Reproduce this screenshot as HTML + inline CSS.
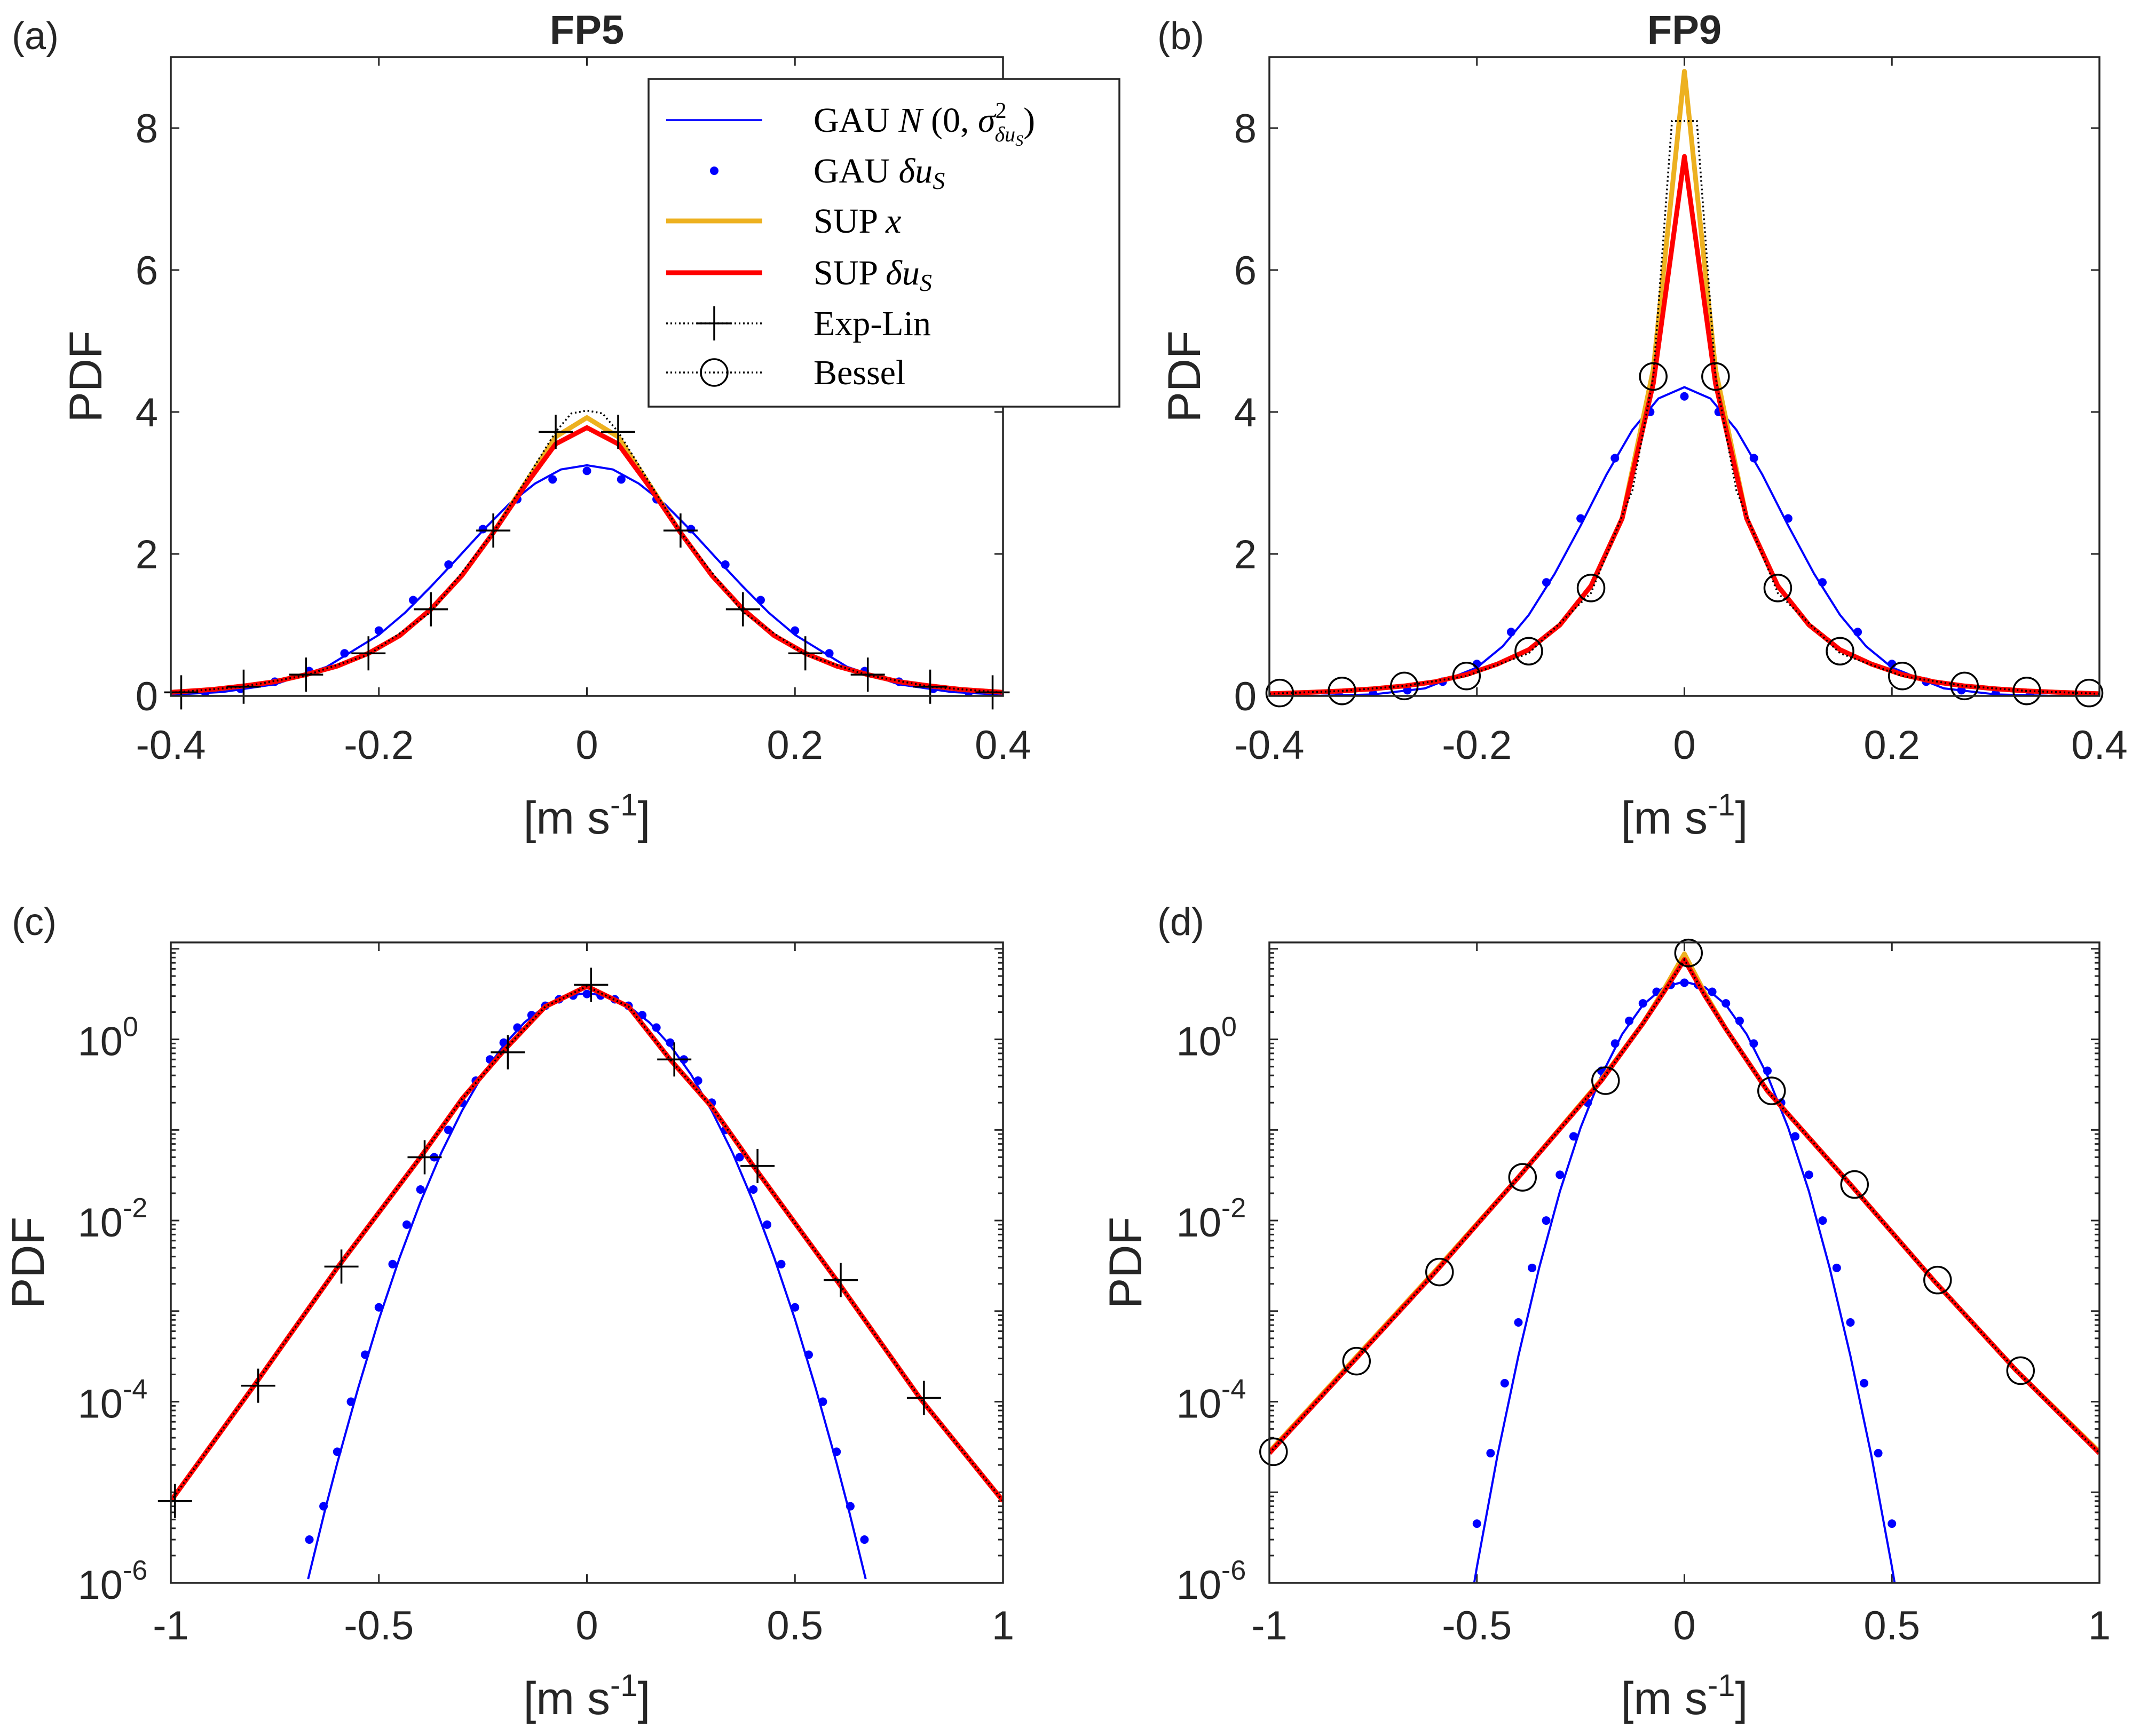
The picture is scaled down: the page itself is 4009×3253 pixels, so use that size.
<!DOCTYPE html>
<html><head><meta charset="utf-8"><style>
html,body{margin:0;padding:0;background:#fff}
svg{display:block}
text{font-family:"Liberation Sans",sans-serif;fill:#262626}
.lg{font-family:"Liberation Serif",serif;fill:#000;font-size:66px}
</style></head><body>
<svg id="fig" width="4009" height="3253" viewBox="0 0 4009 3253" xmlns="http://www.w3.org/2000/svg"></svg>
<script>
// ---------- data ----------
const aGauX=[-0.4,-0.35,-0.3,-0.25,-0.2,-0.175,-0.15,-0.125,-0.1,-0.075,-0.05,-0.025,0,0.025,0.05,0.075,0.1,0.125,0.15,0.175,0.2,0.25,0.3,0.35,0.4];
const aGauY=[0.016,0.056,0.163,0.41,0.86,1.17,1.54,1.93,2.33,2.70,2.99,3.19,3.25,3.19,2.99,2.70,2.33,1.93,1.54,1.17,0.86,0.41,0.163,0.056,0.016];
const aDotX=[-0.4,-0.367,-0.333,-0.3,-0.267,-0.233,-0.2,-0.167,-0.133,-0.1,-0.067,-0.033,0,0.033,0.067,0.1,0.133,0.167,0.2,0.233,0.267,0.3,0.333,0.367,0.4];
const aDotY=[0.02,0.05,0.1,0.2,0.35,0.6,0.92,1.35,1.85,2.35,2.77,3.05,3.17,3.05,2.77,2.35,1.85,1.35,0.92,0.6,0.35,0.2,0.1,0.05,0.02];
const aSupX=[-0.4,-0.36,-0.33,-0.3,-0.27,-0.24,-0.21,-0.18,-0.15,-0.12,-0.09,-0.06,-0.03,0,0.03,0.06,0.09,0.12,0.15,0.18,0.21,0.24,0.27,0.3,0.33,0.36,0.4];
const aSupXY=[0.05,0.09,0.14,0.2,0.3,0.42,0.6,0.85,1.22,1.7,2.3,2.98,3.65,3.92,3.65,2.98,2.3,1.7,1.22,0.85,0.6,0.42,0.3,0.2,0.14,0.09,0.05];
const aSupDY=[0.05,0.09,0.14,0.2,0.3,0.42,0.6,0.85,1.22,1.7,2.3,2.95,3.55,3.78,3.55,2.95,2.3,1.7,1.22,0.85,0.6,0.42,0.3,0.2,0.14,0.09,0.05];
const aModX=[-0.4,-0.33,-0.27,-0.21,-0.15,-0.09,-0.03,-0.015,0,0.015,0.03,0.09,0.15,0.21,0.27,0.33,0.4];
const aModY=[0.045,0.13,0.29,0.58,1.18,2.3,3.72,3.98,4.02,3.98,3.72,2.3,1.18,0.58,0.29,0.13,0.045];
const aMkX=[-0.39,-0.33,-0.27,-0.21,-0.15,-0.09,-0.03,0.03,0.09,0.15,0.21,0.27,0.33,0.39];
const aMkY=[0.05,0.13,0.3,0.6,1.22,2.33,3.72,3.72,2.33,1.22,0.6,0.3,0.13,0.05];
const bGauX=[-0.4,-0.35,-0.3,-0.25,-0.2,-0.175,-0.15,-0.125,-0.1,-0.075,-0.05,-0.025,0,0.025,0.05,0.075,0.1,0.125,0.15,0.175,0.2,0.25,0.3,0.35,0.4];
const bGauY=[0,0.0015,0.021,0.106,0.40,0.70,1.14,1.72,2.40,3.12,3.75,4.19,4.35,4.19,3.75,3.12,2.40,1.72,1.14,0.70,0.40,0.106,0.021,0.0015,0];
const bDotX=[-0.4,-0.367,-0.333,-0.3,-0.267,-0.233,-0.2,-0.167,-0.133,-0.1,-0.067,-0.033,0,0.033,0.067,0.1,0.133,0.167,0.2,0.233,0.267,0.3,0.333,0.367,0.4];
const bDotY=[0,0.005,0.01,0.03,0.08,0.2,0.45,0.9,1.6,2.5,3.35,4.0,4.22,4.0,3.35,2.5,1.6,0.9,0.45,0.2,0.08,0.03,0.01,0.005,0];
const bSupX=[-0.4,-0.36,-0.33,-0.3,-0.27,-0.24,-0.21,-0.18,-0.15,-0.12,-0.09,-0.06,-0.03,0,0.03,0.06,0.09,0.12,0.15,0.18,0.21,0.24,0.27,0.3,0.33,0.36,0.4];
const bSupXY=[0.03,0.05,0.07,0.1,0.14,0.2,0.3,0.45,0.65,1.0,1.55,2.5,4.6,8.8,4.6,2.5,1.55,1.0,0.65,0.45,0.3,0.2,0.14,0.1,0.07,0.05,0.03];
const bSupDY=[0.03,0.05,0.07,0.1,0.14,0.2,0.3,0.45,0.65,1.0,1.55,2.5,4.4,7.6,4.4,2.5,1.55,1.0,0.65,0.45,0.3,0.2,0.14,0.1,0.07,0.05,0.03];
const bModX=[-0.4,-0.33,-0.27,-0.21,-0.15,-0.09,-0.05,-0.03,-0.012,0,0.012,0.03,0.05,0.09,0.15,0.21,0.27,0.33,0.4];
const bModY=[0.03,0.07,0.14,0.28,0.6,1.45,2.9,4.5,8.1,8.1,8.1,4.5,2.9,1.45,0.6,0.28,0.14,0.07,0.03];
const bMkX=[-0.39,-0.33,-0.27,-0.21,-0.15,-0.09,-0.03,0.03,0.09,0.15,0.21,0.27,0.33,0.39];
const bMkY=[0.04,0.07,0.14,0.28,0.63,1.52,4.5,4.5,1.52,0.63,0.28,0.14,0.07,0.04];
const cGauX=[-0.67,-0.63,-0.6,-0.55,-0.5,-0.45,-0.4,-0.35,-0.3,-0.25,-0.2,-0.15,-0.1,-0.05,0,0.05,0.1,0.15,0.2,0.25,0.3,0.35,0.4,0.45,0.5,0.55,0.6,0.63,0.67];
const cGauY=[1.1e-6,6.2e-6,2.1e-5,1.4e-4,8.1e-4,3.9e-3,0.016,0.056,0.163,0.41,0.86,1.54,2.33,2.99,3.25,2.99,2.33,1.54,0.86,0.41,0.163,0.056,0.016,3.9e-3,8.1e-4,1.4e-4,2.1e-5,6.2e-6,1.1e-6];
const cDotX=[-0.667,-0.633,-0.6,-0.567,-0.533,-0.5,-0.467,-0.433,-0.4,-0.367,-0.333,-0.3,-0.267,-0.233,-0.2,-0.167,-0.133,-0.1,-0.067,-0.033,0,0.033,0.067,0.1,0.133,0.167,0.2,0.233,0.267,0.3,0.333,0.367,0.4,0.433,0.467,0.5,0.533,0.567,0.6,0.633,0.667];
const cDotY=[3e-6,7e-6,2.8e-5,1e-4,3.3e-4,1.1e-3,3.3e-3,0.009,0.022,0.05,0.1,0.2,0.35,0.6,0.92,1.35,1.85,2.35,2.77,3.05,3.17,3.05,2.77,2.35,1.85,1.35,0.92,0.6,0.35,0.2,0.1,0.05,0.022,0.009,3.3e-3,1.1e-3,3.3e-4,1e-4,2.8e-5,7e-6,3e-6];
const cSupX=[-1,-0.8,-0.6,-0.4,-0.3,-0.2,-0.1,0,0.1,0.2,0.3,0.4,0.6,0.8,1];
const cSupY=[8e-6,1.5e-4,3e-3,5e-2,0.22,0.75,2.3,3.85,2.3,0.6,0.18,4e-2,2.2e-3,1.1e-4,8e-6];
const cMkX=[-0.99,-0.79,-0.59,-0.39,-0.19,0.01,0.21,0.41,0.61,0.81];
const cMkY=[8e-6,1.5e-4,3.1e-3,5e-2,0.72,4.0,0.6,4e-2,2.2e-3,1.1e-4];
const dGauX=[-0.51,-0.5,-0.45,-0.4,-0.35,-0.3,-0.25,-0.2,-0.15,-0.1,-0.05,0,0.05,0.1,0.15,0.2,0.25,0.3,0.35,0.4,0.45,0.5,0.51];
const dGauY=[8e-7,1.5e-6,2.6e-5,3.2e-4,3e-3,0.021,0.106,0.40,1.14,2.40,3.75,4.35,3.75,2.40,1.14,0.40,0.106,0.021,3e-3,3.2e-4,2.6e-5,1.5e-6,8e-7];
const dDotX=[-0.5,-0.467,-0.433,-0.4,-0.367,-0.333,-0.3,-0.267,-0.233,-0.2,-0.167,-0.133,-0.1,-0.067,-0.033,0,0.033,0.067,0.1,0.133,0.167,0.2,0.233,0.267,0.3,0.333,0.367,0.4,0.433,0.467,0.5];
const dDotY=[4.5e-6,2.7e-5,1.6e-4,7.5e-4,3e-3,0.01,0.032,0.085,0.2,0.45,0.9,1.6,2.5,3.35,4.0,4.22,4.0,3.35,2.5,1.6,0.9,0.45,0.2,0.085,0.032,0.01,3e-3,7.5e-4,1.6e-4,2.7e-5,4.5e-6];
const dSupX=[-1,-0.8,-0.6,-0.4,-0.2,-0.1,-0.05,0,0.05,0.1,0.2,0.4,0.6,0.8,1];
const dSupXY=[2.8e-5,2.8e-4,2.8e-3,3e-2,0.36,1.5,3.5,8.8,3.2,1.3,0.27,2.5e-2,2.2e-3,2.2e-4,2.8e-5];
const dSupDY=[2.7e-5,2.7e-4,2.7e-3,3e-2,0.35,1.5,3.3,7.6,3.0,1.3,0.27,2.5e-2,2.2e-3,2.2e-4,2.7e-5];
const dMkX=[-0.99,-0.79,-0.59,-0.39,-0.19,0.01,0.21,0.41,0.61,0.81];
const dMkY=[2.8e-5,2.8e-4,2.7e-3,3e-2,0.35,9,0.27,2.5e-2,2.2e-3,2.2e-4];
const linXTicks=[-0.4,-0.2,0,0.2,0.4];
const linXLabels=["-0.4","-0.2","0","0.2","0.4"];
const linYTicks=[0,2,4,6,8];
const logXTicks=[-1,-0.5,0,0.5,1];
const logXLabels=["-1","-0.5","0","0.5","1"];
const logYExp=[0,-2,-4,-6];

// ---------- drawing ----------
const NS="http://www.w3.org/2000/svg";
const svg=document.getElementById('fig');
function el(tag,attrs,parent){const e=document.createElementNS(NS,tag);for(const k in attrs)e.setAttribute(k,attrs[k]);(parent||svg).appendChild(e);return e;}
function pathD(xs,ys,sx,sy){let d="";for(let i=0;i<xs.length;i++){d+=(i?"L":"M")+sx(xs[i]).toFixed(1)+","+sy(ys[i]).toFixed(1);}return d;}

function panel(cfg){
  const g=el('g',{});
  
  
  const L=cfg.L,R=cfg.R,T=cfg.T,B=cfg.B;
  const sx=v=>L+(v-cfg.xmin)/(cfg.xmax-cfg.xmin)*(R-L);
  let sy;
  if(cfg.log){sy=v=>B-(Math.log10(Math.max(v,1e-9))-cfg.ymin)/(cfg.ymax-cfg.ymin)*(B-T);}
  else{sy=v=>B-(v-cfg.ymin)/(cfg.ymax-cfg.ymin)*(B-T);}
  const cid='clip-'+cfg.name;
  const cp=el('clipPath',{id:cid},g);el('rect',{x:L,y:T-30,width:R-L,height:B-T+30},cp);
  const tk=el('g',{stroke:'#262626','stroke-width':3},g);
  
  
  cfg.xt.forEach((v,i)=>{
    const x=sx(v);
    el('line',{x1:x,y1:B,x2:x,y2:B-16},tk);el('line',{x1:x,y1:T,x2:x,y2:T+16},tk);
    const t=el('text',{x:x,y:cfg.xlabY,'text-anchor':'middle','font-size':76},g);
    t.textContent=cfg.xl[i];
    
    
  });
  if(!cfg.log){
    linYTicks.forEach(v=>{
      const y=sy(v);
      el('line',{x1:L,y1:y,x2:L+16,y2:y},tk);el('line',{x1:R,y1:y,x2:R-16,y2:y},tk);
      const t=el('text',{x:L-24,y:y+27,'text-anchor':'end','font-size':76},g);
      t.textContent=String(v);
      
      
    });
  } else {
    for(let e=-6;e<=1;e++){for(let m=1;m<10;m++){const lv=e+Math.log10(m);if(lv>cfg.ymax)break;const y=sy(Math.pow(10,lv));const len=m===1?16:9;
      el('line',{x1:L,y1:y,x2:L+len,y2:y},tk);el('line',{x1:R,y1:y,x2:R-len,y2:y},tk);}}
    logYExp.forEach(e=>{
      const y=sy(Math.pow(10,e));
      const t=el('text',{x:L-90,y:y+30,'text-anchor':'end','font-size':76},g);
      t.textContent="10";
      
      
      const s=el('text',{x:L-90,y:y-6,'text-anchor':'start','font-size':52},g);
      s.textContent=String(e);
      
      
    });
  }
  const sg=el('g',{'clip-path':'url(#'+cid+')',fill:'none'},g);
  const p1=el('path',{d:pathD(cfg.gx,cfg.gy,sx,sy),stroke:'#0000ff','stroke-width':4,'stroke-linejoin':'round'},sg);
  
  
  const dg=el('g',{fill:'#0000ff'},sg);
  
  
  cfg.dx.forEach((x,i)=>{const c=el('circle',{cx:sx(x),cy:sy(cfg.dy[i]),r:8},dg);
    
    });
  const p2=el('path',{d:pathD(cfg.sx,cfg.sxy,sx,sy),stroke:'#edb120','stroke-width':9,'stroke-linejoin':'round'},sg);
  
  
  const p3=el('path',{d:pathD(cfg.sx,cfg.sdy,sx,sy),stroke:'#ff0000','stroke-width':9,'stroke-linejoin':'round'},sg);
  
  
  const p4=el('path',{d:pathD(cfg.mx,cfg.my,sx,sy),stroke:'#000','stroke-width':3.5,'stroke-dasharray':'3 5'},sg);
  
  
  const mg=el('g',{stroke:'#000','stroke-width':3.5,fill:'none'},g);
  
  
  cfg.kx.forEach((x,i)=>{const X=sx(x),Y=sy(cfg.ky[i]);let m;
    if(cfg.model==='exp-lin'){m=el('path',{d:`M${X-32},${Y}H${X+32}M${X},${Y-32}V${Y+32}`},mg);}
    else{m=el('circle',{cx:X,cy:Y,r:25},mg);}
    
    });
  const bx=el('rect',{x:L,y:T,width:R-L,height:B-T,fill:'none',stroke:'#262626','stroke-width':3.5},g);
  
  
  const yl=el('text',{x:0,y:0,'text-anchor':'middle','font-size':86,transform:`translate(${cfg.ylabX},${(T+B)/2}) rotate(-90)`},g);
  yl.textContent="PDF";
  
  
  const xl=el('text',{x:(L+R)/2,y:cfg.xtitY,'text-anchor':'middle','font-size':86},g);
  const xa=el('tspan',{},xl);xa.textContent='[m s';
  const xb=el('tspan',{dy:-34,'font-size':58},xl);xb.textContent='-1';
  const xc=el('tspan',{dy:34},xl);xc.textContent=']';
  
  
  const pl=el('text',{x:cfg.plX,y:cfg.plY,'font-size':72,fill:'#000'},g);
  pl.textContent=cfg.panel;
  
  
  if(cfg.title){const tt=el('text',{x:(L+R)/2,y:82,'text-anchor':'middle','font-size':76,'font-weight':'bold',fill:'#000'},g);
    tt.textContent=cfg.title;
    
    }
}

const topCfg={T:107,B:1304,xmin:-0.4,xmax:0.4,ymin:0,ymax:9,log:false,xt:linXTicks,xl:linXLabels,xlabY:1422,xtitY:1562};
const botCfg={T:1766,B:2966,xmin:-1,xmax:1,ymin:-6,ymax:1.07,log:true,xt:logXTicks,xl:logXLabels,xlabY:3072,xtitY:3212};
panel(Object.assign({},topCfg,{name:'panel-a',L:320,R:1879,gx:aGauX,gy:aGauY,dx:aDotX,dy:aDotY,sx:aSupX,sxy:aSupXY,sdy:aSupDY,mx:aModX,my:aModY,kx:aMkX,ky:aMkY,model:'exp-lin',ylabX:190,plX:22,plY:92,panel:'(a)',title:'FP5'}));
panel(Object.assign({},topCfg,{name:'panel-b',L:2378,R:3933,gx:bGauX,gy:bGauY,dx:bDotX,dy:bDotY,sx:bSupX,sxy:bSupXY,sdy:bSupDY,mx:bModX,my:bModY,kx:bMkX,ky:bMkY,model:'bessel',ylabX:2248,plX:2168,plY:92,panel:'(b)',title:'FP9'}));
panel(Object.assign({},botCfg,{name:'panel-c',L:320,R:1879,gx:cGauX,gy:cGauY,dx:cDotX,dy:cDotY,sx:cSupX,sxy:cSupY,sdy:cSupY,mx:cSupX,my:cSupY,kx:cMkX,ky:cMkY,model:'exp-lin',ylabX:82,plX:22,plY:1752,panel:'(c)'}));
panel(Object.assign({},botCfg,{name:'panel-d',L:2378,R:3933,gx:dGauX,gy:dGauY,dx:dDotX,dy:dDotY,sx:dSupX,sxy:dSupXY,sdy:dSupDY,mx:dSupX,my:dSupDY,kx:dMkX,ky:dMkY,model:'bessel',ylabX:2138,plX:2168,plY:1752,panel:'(d)'}));

// legend
const lg=el('g',{});


el('rect',{x:1215,y:148,width:882,height:614,fill:'#fff',stroke:'#262626','stroke-width':3.5},lg);
const rows=[225,320,414,511,606,698];
const x1=1248,x2=1428,tx=1524,xm=(x1+x2)/2;
el('line',{x1:x1,y1:rows[0],x2:x2,y2:rows[0],stroke:'#0000ff','stroke-width':3.5},lg);
el('circle',{cx:xm,cy:rows[1],r:8,fill:'#0000ff'},lg);
el('line',{x1:x1,y1:rows[2],x2:x2,y2:rows[2],stroke:'#edb120','stroke-width':9},lg);
el('line',{x1:x1,y1:rows[3],x2:x2,y2:rows[3],stroke:'#ff0000','stroke-width':9},lg);
el('line',{x1:x1,y1:rows[4],x2:x2,y2:rows[4],stroke:'#000','stroke-width':3.5,'stroke-dasharray':'3 5'},lg);
el('path',{d:`M${xm-32},${rows[4]}H${xm+32}M${xm},${rows[4]-32}V${rows[4]+32}`,stroke:'#000','stroke-width':3.5},lg);
el('line',{x1:x1,y1:rows[5],x2:x2,y2:rows[5],stroke:'#000','stroke-width':3.5,'stroke-dasharray':'3 5'},lg);
el('circle',{cx:xm,cy:rows[5],r:25,fill:'none',stroke:'#000','stroke-width':3.5},lg);
const labelParts=[
 [['GAU ',{}],['N',{'font-style':'italic'}],[' (0, ',{}],['σ',{'font-style':'italic'}],['2',{dy:-26,'font-size':42}],['δu',{dx:-22,dy:44,'font-size':40,'font-style':'italic'}],['S',{dy:8,'font-size':30,'font-style':'italic'}],[')',{dy:-26}]],
 [['GAU ',{}],['δu',{'font-style':'italic'}],['S',{dy:12,'font-size':46,'font-style':'italic'}]],
 [['SUP ',{}],['x',{'font-style':'italic'}]],
 [['SUP ',{}],['δu',{'font-style':'italic'}],['S',{dy:12,'font-size':46,'font-style':'italic'}]],
 [['Exp-Lin',{}]],
 [['Bessel',{}]]];
const lnames=['legend-gau-normal','legend-gau-dus','legend-sup-x','legend-sup-dus','legend-exp-lin','legend-bessel'];
labelParts.forEach((parts,i)=>{const t=el('text',{x:tx,y:rows[i]+22,class:'lg'},lg);
  parts.forEach(p=>{const s=el('tspan',p[1],t);s.textContent=p[0];});
  
  });
</script>
</body></html>
